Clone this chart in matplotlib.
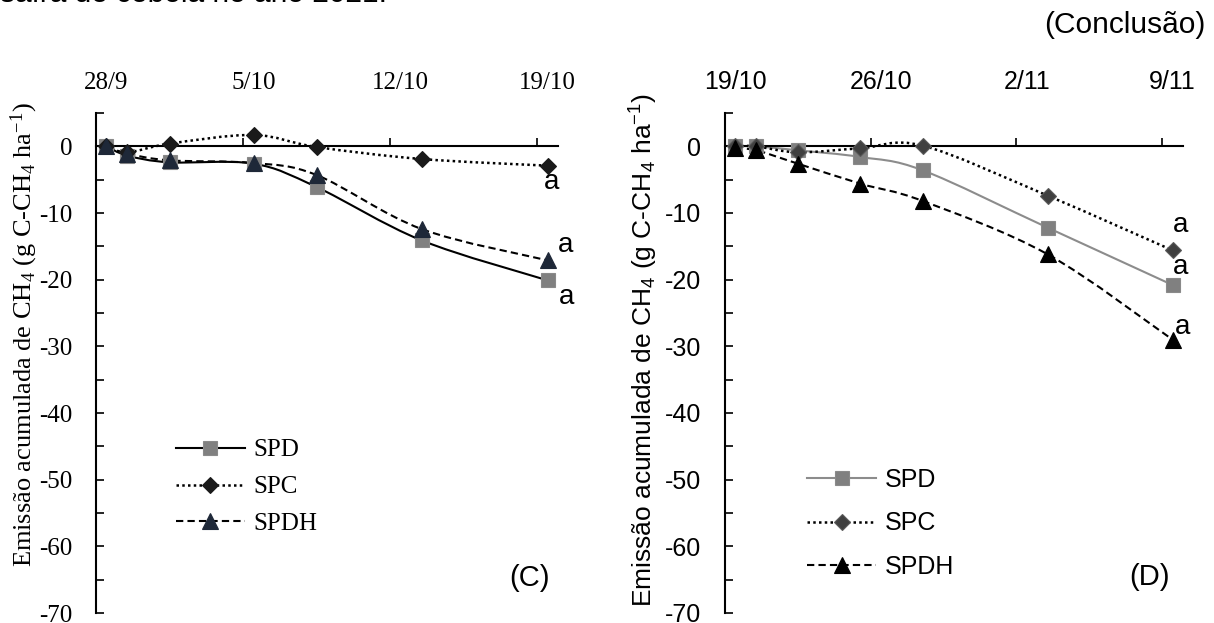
import numpy as np
import pandas as pd
import matplotlib
matplotlib.use("Agg")
import matplotlib.pyplot as plt
from matplotlib.path import Path
from matplotlib.patches import PathPatch
from matplotlib.lines import Line2D
from matplotlib.ticker import MultipleLocator, FixedLocator, FixedFormatter, NullFormatter

plt.rcParams['axes.unicode_minus'] = False

# sampling dates and cumulative CH4 emission (g C-CH4 ha-1)
dates_c = ['2021-09-28', '2021-09-29', '2021-10-01', '2021-10-05', '2021-10-08', '2021-10-13', '2021-10-19']
spd_c = [0.0, -1.4, -2.4, -2.6, -6.1, -14.1, -20.1]
spc_c = [0.0, -0.9, 0.4, 1.7, -0.1, -1.9, -2.9]
spdh_c = [0.0, -1.1, -2.1, -2.5, -4.3, -12.4, -17.1]

dates_d = ['2021-10-19', '2021-10-20', '2021-10-22', '2021-10-25', '2021-10-28', '2021-11-03', '2021-11-09']
spd_d = [0.0, 0.0, -0.6, -1.6, -3.6, -12.2, -20.8]
spc_d = [0.0, 0.0, -0.9, -0.3, 0.1, -7.4, -15.6]
spdh_d = [-0.3, -0.6, -2.6, -5.6, -8.2, -16.2, -29.0]

ticks_c = ['28/9', '5/10', '12/10', '19/10']
ticks_d = ['19/10', '26/10', '2/11', '9/11']
series_names = ['SPD', 'SPC', 'SPDH']
letters_c = ['a', 'a', 'a']
letters_d = ['a', 'a', 'a']

W, H = 1214, 623
fig = plt.figure(figsize=(W / 100, H / 100), dpi=100)
fig.patch.set_facecolor('white')


def day_offsets(dates):
    d = pd.to_datetime(dates)
    # points sit in the middle of each day on the date axis
    return ((d - d[0]).days + 0.5).to_numpy(dtype=float)


def smooth_path(x, y):
    # Catmull-Rom style bezier through the points (like a spreadsheet "smoothed line")
    pts = np.column_stack([x, y])
    ext = np.vstack([pts[0], pts, pts[-1]])
    verts = [pts[0]]
    codes = [Path.MOVETO]
    for i in range(len(pts) - 1):
        p0, p1, p2, p3 = ext[i], ext[i + 1], ext[i + 2], ext[i + 3]
        verts += [p1 + (p2 - p0) / 6.0, p2 - (p3 - p1) / 6.0, p2]
        codes += [Path.CURVE4] * 3
    return Path(verts, codes)


def draw_panel(ax, dates, values, styles, tick_labels, letters, letter_offsets,
               family, legend_anchor, labelspacing, tag, tag_pos):
    x = day_offsets(dates)
    handles = []
    for (y, st) in zip(values, styles):
        path = smooth_path(x, np.asarray(y))
        ax.add_patch(PathPatch(path, fill=False, edgecolor=st['lc'], lw=st['lw'],
                               linestyle=st['ls'], zorder=2))
        ax.plot(x, y, linestyle='none', marker=st['m'], ms=st['ms'], mfc=st['fc'],
                mec=st['ec'], mew=0.8, zorder=3)
        handles.append(Line2D([], [], color=st['lc'], lw=st['lw'], ls=st['ls'],
                              marker=st['m'], ms=st['ms'], mfc=st['fc'], mec=st['ec'], mew=0.8))

    for y, txt, off in zip(values, letters, letter_offsets):
        ax.annotate(txt, (x[-1], y[-1]), xytext=off, textcoords='offset points',
                    ha='center', va='center', fontsize=20, family='Liberation Sans')

    ax.set_xlim(0, 22)
    ax.set_ylim(-70, 5)
    for s in ['top', 'right']:
        ax.spines[s].set_visible(False)
    ax.spines['bottom'].set_position(('data', 0))
    ax.spines['bottom'].set_linewidth(1.5)
    ax.spines['left'].set_linewidth(1.5)

    # tick marks at the week boundaries, labels centred on the day
    ax.xaxis.set_major_locator(FixedLocator([0, 7, 14, 21]))
    ax.xaxis.set_major_formatter(NullFormatter())
    ax.xaxis.set_minor_locator(FixedLocator([0.5, 7.5, 14.5, 21.5]))
    ax.xaxis.set_minor_formatter(FixedFormatter(tick_labels))
    ax.tick_params(axis='x', which='major', direction='in', length=6, width=1.2,
                   bottom=True, top=False, labelbottom=False, labeltop=False)
    ax.tick_params(axis='x', which='minor', length=0, bottom=False, top=False,
                   labelbottom=False, labeltop=True, pad=14, labelsize=18)

    ax.yaxis.set_major_locator(MultipleLocator(10))
    ax.yaxis.set_minor_locator(MultipleLocator(5))
    ax.tick_params(axis='y', which='both', direction='in', length=6, width=1.2,
                   pad=17, labelsize=18)

    for lab in ax.get_xticklabels(minor=True) + ax.get_yticklabels():
        lab.set_family(family)

    ax.legend(handles, series_names, loc='upper left', bbox_to_anchor=legend_anchor,
              frameon=False, borderpad=0, borderaxespad=0, handlelength=2.75,
              handletextpad=0.35, labelspacing=labelspacing,
              prop={'family': family, 'size': 18})
    ax.text(tag_pos[0], tag_pos[1], tag, transform=ax.transAxes, ha='center', va='center',
            fontsize=21, family='Liberation Sans')


ax_c = fig.add_axes([96 / W, 1 - 613 / H, 462 / W, 500 / H])
ax_d = fig.add_axes([725 / W, 1 - 613 / H, 458 / W, 500 / H])

styles_c = [
    dict(lc='black', lw=1.5, ls='-', m='s', ms=10.5, fc='#808080', ec='#8a8a8a'),
    dict(lc='black', lw=1.8, ls=(0, (1, 1.3)), m='D', ms=7.8, fc='#1a1a1a', ec='#1a1a1a'),
    dict(lc='black', lw=1.5, ls=(0, (3.5, 2)), m='^', ms=11.5, fc='#1e2838', ec='#1e2838'),
]
styles_d = [
    dict(lc='#8c8c8c', lw=1.5, ls='-', m='s', ms=10.5, fc='#808080', ec='#8a8a8a'),
    dict(lc='black', lw=1.8, ls=(0, (1, 1.3)), m='D', ms=7.8, fc='#404040', ec='#5a5a5a'),
    dict(lc='black', lw=1.5, ls=(0, (3.5, 2)), m='^', ms=11.5, fc='black', ec='black'),
]

draw_panel(ax_c, dates_c, [spd_c, spc_c, spdh_c], styles_c, ticks_c, letters_c,
           [(14, -12), (3, -12), (13, 11)], 'Liberation Serif', (0.173, 0.348), 0.57,
           '(C)', (0.939, 0.07))
draw_panel(ax_d, dates_d, [spd_d, spc_d, spdh_d], styles_d, ticks_d, letters_d,
           [(6, 13), (6, 18), (7, 9)], 'Liberation Sans', (0.18, 0.29), 0.78,
           '(D)', (0.926, 0.072))

ylabel = 'Emissão acumulada de CH$\\mathregular{_4}$ (g C-CH$\\mathregular{_4}$ ha$\\mathregular{^{-1}}$)'
fig.text(24 / W, 1 - 335 / H, ylabel, rotation=90, ha='center', va='center',
         fontsize=19, family='Liberation Serif')
fig.text(644 / W, 1 - 350 / H, ylabel, rotation=90, ha='center', va='center',
         fontsize=19, family='Liberation Sans')

fig.text(1206 / W, 1 - 25 / H, '(Conclusão)', ha='right', va='center',
         fontsize=21.5, family='Liberation Sans')
# last line of the caption above, running off the top edge
fig.text(0 / W, 1 - 2 / H, 'safra de cebola no ano 2021.', ha='left', va='baseline',
         fontsize=21.5, family='Liberation Sans')

fig.savefig('out.png', dpi=100, facecolor='white')
